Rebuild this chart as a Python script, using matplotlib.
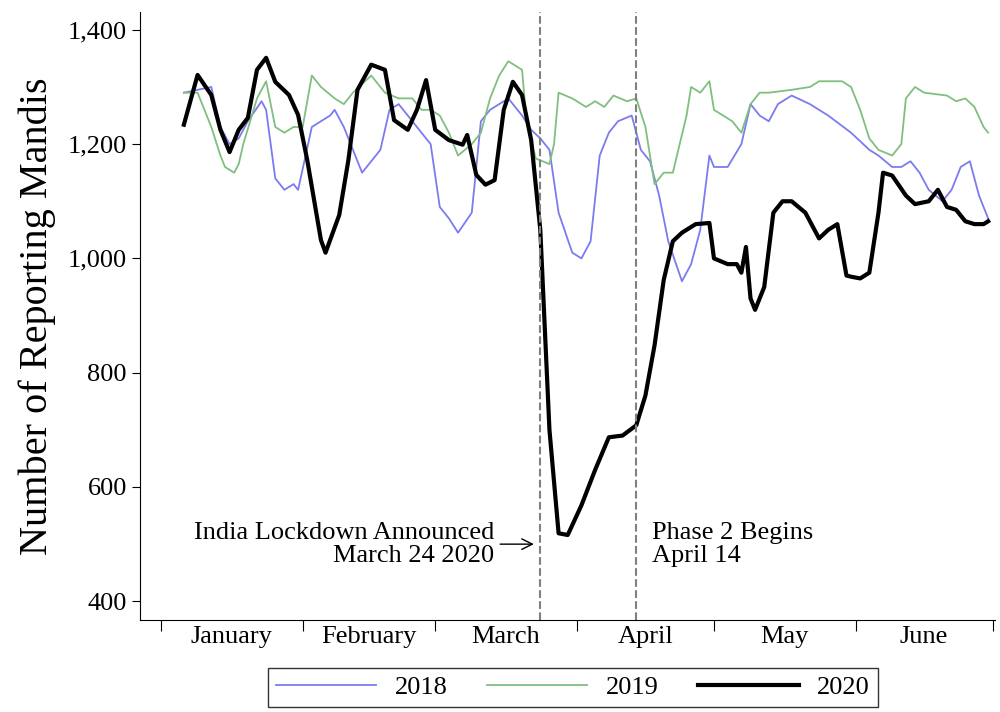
import matplotlib
matplotlib.use("Agg")
import matplotlib.pyplot as plt
from matplotlib.lines import Line2D

plt.rcParams['font.family'] = ['Liberation Serif', 'DejaVu Serif']

d2020 = [5,8,11,13,15,17,19,21,23,25,28,30,32,35,36,39,41,43,46,49,51,54,56,58,60,63,66,67,69,71,73,75,77,79,81,83,85,87,89,92,95,98,101,104,106,108,110,112,114,117,120,121,124,126,127,128,129,130,132,134,136,138,141,144,146,148,150,151,153,155,157,158,160,163,165,168,170,172,174,176,178,180,181]
v2020 = [1234,1321,1286,1225,1186,1225,1246,1330,1351,1309,1286,1251,1172,1032,1010,1076,1172,1295,1339,1330,1242,1225,1260,1312,1225,1207,1199,1216,1146,1129,1137,1260,1309,1286,1207,1050,700,519,516,568,630,687,690,708,760,848,962,1030,1045,1060,1062,1000,990,990,975,1020,930,910,950,1080,1100,1100,1080,1035,1050,1060,970,968,965,975,1080,1150,1145,1110,1095,1100,1120,1090,1085,1065,1060,1060,1065]

d2019 = [5,8,11,13,14,16,17,18,21,23,25,27,29,31,33,35,38,40,42,46,49,52,55,57,59,61,63,65,68,70,72,74,76,79,80,82,85,86,87,90,93,95,97,99,102,104,106,108,110,112,115,116,118,120,121,123,125,127,129,131,133,138,142,144,149,151,153,155,157,160,162,163,165,167,172,174,176,178,180,181]
v2019 = [1290,1290,1230,1180,1160,1150,1165,1200,1280,1310,1230,1220,1230,1230,1320,1300,1280,1270,1290,1320,1290,1280,1280,1260,1260,1250,1220,1180,1200,1220,1280,1320,1345,1330,1240,1175,1165,1200,1290,1280,1265,1275,1265,1285,1275,1280,1230,1130,1150,1150,1250,1300,1290,1310,1260,1250,1240,1220,1270,1290,1290,1295,1300,1310,1310,1300,1260,1210,1190,1180,1200,1280,1300,1290,1285,1275,1280,1265,1230,1220]

d2018 = [5,8,11,13,15,17,19,22,23,25,27,29,30,33,35,37,38,40,44,46,48,50,52,54,59,61,63,65,68,70,72,74,76,79,81,83,85,87,90,92,94,96,98,100,103,105,107,109,111,114,116,118,120,121,124,127,129,131,133,135,138,142,146,151,155,157,160,162,164,166,168,171,173,175,177,179,181]
v2018 = [1290,1295,1300,1230,1200,1210,1240,1275,1260,1140,1120,1130,1120,1230,1240,1250,1260,1230,1150,1170,1190,1260,1270,1250,1200,1090,1070,1045,1080,1240,1260,1270,1280,1250,1225,1210,1190,1080,1010,1000,1030,1180,1220,1240,1250,1190,1170,1110,1030,960,990,1050,1180,1160,1160,1200,1270,1250,1240,1270,1285,1270,1250,1220,1190,1180,1160,1160,1170,1150,1120,1100,1120,1160,1170,1110,1070]

months = ['January','February','March','April','May','June']
month_starts = [0,31,60,91,121,152,182]
lockdown_day = 83
phase2_day = 104

FS = 19
fig = plt.figure(figsize=(10,7.12), dpi=100)
ax = fig.add_axes([0.14,0.129,0.855,0.854])
ax.plot(d2018, v2018, color='#7b7bf0', lw=1.3)
ax.plot(d2019, v2019, color='#7fbf7f', lw=1.3)
ax.plot(d2020, v2020, color='black', lw=3)
ax.axvline(lockdown_day, color='gray', ls='--', lw=1.5)
ax.axvline(phase2_day, color='gray', ls='--', lw=1.5)
ax.set_xlim(-4.6,182.5)
ax.set_ylim(367,1431)
ax.set_yticks(range(400,1401,200))
ax.set_yticklabels([f'{v:,}' for v in range(400,1401,200)], fontsize=FS)
ax.set_xticks(month_starts)
ax.set_xticklabels([])
ax.set_xticks([(month_starts[i]+month_starts[i+1])/2 for i in range(6)], minor=True)
ax.set_xticklabels(months, minor=True, fontsize=FS)
ax.tick_params(axis='x', which='minor', length=0, pad=4)
ax.tick_params(axis='x', which='major', length=8)
ax.tick_params(axis='y', length=6)
for s in ['top','right']:
    ax.spines[s].set_visible(False)
ax.set_ylabel('Number of Reporting Mandis', fontsize=29, labelpad=8)
ax.annotate('India Lockdown Announced\nMarch 24 2020', xy=(lockdown_day-0.8, 500), xytext=(lockdown_day-10, 500),
            ha='right', va='center', fontsize=FS, linespacing=1.05,
            arrowprops=dict(arrowstyle='->', color='black', lw=1))
ax.text(phase2_day+3.4, 500, 'Phase 2 Begins\nApril 14', ha='left', va='center', fontsize=FS, linespacing=1.05)
fig.legend(handles=[Line2D([],[],color='#7b7bf0',lw=1.3),Line2D([],[],color='#7fbf7f',lw=1.3),Line2D([],[],color='black',lw=3)],
           labels=['2018','2019','2020'], loc='upper left', bbox_to_anchor=(0.268,0.062), ncol=3, fontsize=FS,
           frameon=True, fancybox=False, edgecolor='black', handlelength=3.8, handletextpad=0.7,
           columnspacing=1.5, borderaxespad=0, borderpad=0.3)
fig.savefig('out.png', dpi=100)
